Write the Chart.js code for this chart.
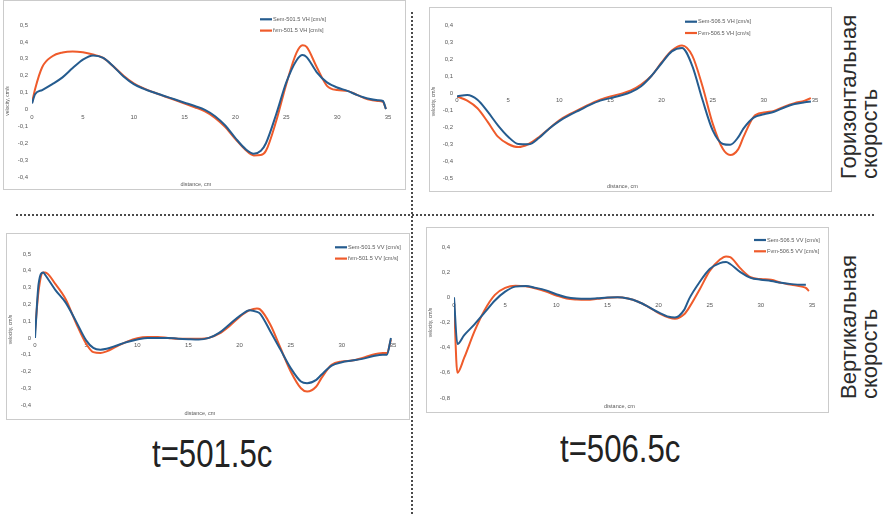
<!DOCTYPE html>
<html>
<head>
<meta charset="utf-8">
<script src="https://cdn.jsdelivr.net/npm/chart.js@4/dist/chart.umd.min.js"></script>
<style>
html,body{margin:0;padding:0;background:#fff;}
body{width:887px;height:515px;position:relative;overflow:hidden;font-family:"Liberation Sans",Arial,sans-serif;}
.box{position:absolute;border:1px solid #cbcbcb;box-sizing:border-box;background:#fff;}
.box canvas{position:absolute;left:0;top:0;}
.hdash{position:absolute;left:16px;top:214px;width:858px;height:2px;background:repeating-linear-gradient(to right,#4a4a4a 0 2px,transparent 2px 4px);}
.vdash{position:absolute;left:411px;top:12px;width:2px;height:503px;background:repeating-linear-gradient(to bottom,#4a4a4a 0 2px,transparent 2px 4px);}
.rot{position:absolute;transform-origin:left top;transform:rotate(-90deg);font-size:22px;line-height:21px;color:#2b2b2b;white-space:nowrap;}
.big{position:absolute;font-family:"Liberation Sans",sans-serif;font-size:38px;line-height:40px;color:#222;white-space:nowrap;transform-origin:left top;transform:scaleX(0.82);}
</style>
</head>
<body>
<div class="box" style="left:3px;top:0px;width:403px;height:190px;"><canvas id="c1" width="401" height="188"></canvas></div>
<div class="box" style="left:429px;top:7px;width:403px;height:185px;"><canvas id="c2" width="401" height="183"></canvas></div>
<div class="box" style="left:6px;top:233px;width:404px;height:187px;"><canvas id="c3" width="402" height="185"></canvas></div>
<div class="box" style="left:426px;top:227px;width:403px;height:186px;"><canvas id="c4" width="401" height="184"></canvas></div>
<div class="hdash"></div>
<div class="vdash"></div>
<div class="rot" style="left:838px;top:179px;">Горизонтальная<br>скорость</div>
<div class="rot" style="left:838px;top:399px;">Вертикальная<br>скорость</div>
<div class="big" style="left:152px;top:434px;">t=501.5c</div>
<div class="big" style="left:560px;top:429px;">t=506.5c</div>
<script>
// ---- chart 1: horizontal velocity, t = 501.5 ----
const distVH501 = [0, 0.3, 1, 2, 3, 4, 5, 6, 7, 8, 9, 10, 11, 12, 13, 14, 15, 16, 17, 18, 19, 20, 21, 21.8, 22.5, 23, 24, 25, 26, 26.6, 27, 28, 29, 30, 31, 32, 33, 34, 34.5, 34.8];
const semVH501 = [0.035, 0.09, 0.115, 0.15, 0.19, 0.245, 0.295, 0.32, 0.305, 0.255, 0.195, 0.15, 0.122, 0.1, 0.08, 0.06, 0.04, 0.02, -0.002, -0.04, -0.095, -0.17, -0.235, -0.262, -0.245, -0.2, -0.03, 0.16, 0.29, 0.322, 0.31, 0.22, 0.16, 0.13, 0.11, 0.085, 0.065, 0.055, 0.05, 0.002];
const fvmVH501 = [0.04, 0.12, 0.25, 0.315, 0.337, 0.343, 0.338, 0.325, 0.305, 0.255, 0.2, 0.155, 0.125, 0.1, 0.078, 0.057, 0.035, 0.013, -0.012, -0.05, -0.105, -0.175, -0.24, -0.272, -0.27, -0.245, -0.07, 0.15, 0.335, 0.38, 0.37, 0.25, 0.14, 0.115, 0.11, 0.085, 0.06, 0.05, 0.045, 0.003];

// ---- chart 2: horizontal velocity, t = 506.5 ----
const distVH506 = [0, 1, 2, 3, 4, 5, 6, 7, 8, 9, 10, 11, 12, 13, 14, 15, 16, 17, 18, 19, 20, 21, 22, 23, 24, 25, 26, 26.7, 27.5, 28, 29, 30, 31, 32, 33, 34, 34.6];
const semVH506 = [-0.02, -0.012, -0.04, -0.11, -0.19, -0.257, -0.3, -0.302, -0.265, -0.21, -0.165, -0.13, -0.1, -0.07, -0.045, -0.03, -0.015, 0.005, 0.04, 0.1, 0.175, 0.245, 0.265, 0.16, -0.04, -0.22, -0.3, -0.305, -0.26, -0.21, -0.145, -0.125, -0.11, -0.085, -0.065, -0.055, -0.05];
const fvmVH506 = [-0.02, -0.045, -0.09, -0.17, -0.257, -0.3, -0.318, -0.3, -0.26, -0.21, -0.16, -0.125, -0.095, -0.065, -0.04, -0.02, -0.005, 0.015, 0.05, 0.1, 0.18, 0.25, 0.28, 0.22, 0.04, -0.18, -0.33, -0.365, -0.33, -0.26, -0.14, -0.115, -0.105, -0.08, -0.06, -0.045, -0.03];

// ---- chart 3: vertical velocity, t = 501.5 ----
const distVV501 = [0, 0.35, 0.8, 1, 2, 3, 4, 5, 5.7, 6.4, 7, 8, 9, 10, 11, 12, 13, 14, 15, 16, 17, 18, 19, 20, 21, 21.7, 22, 23, 24, 25, 26, 26.6, 27.5, 28, 29, 30, 31, 32, 33, 34, 34.4, 34.8];
const semVV501 = [0.0, 0.32, 0.39, 0.375, 0.285, 0.21, 0.1, -0.015, -0.06, -0.07, -0.065, -0.045, -0.025, -0.01, 0.0, 0.0, 0.0, -0.005, -0.008, -0.01, 0.0, 0.03, 0.08, 0.13, 0.165, 0.155, 0.145, 0.04, -0.07, -0.18, -0.26, -0.27, -0.25, -0.22, -0.165, -0.145, -0.135, -0.125, -0.11, -0.1, -0.1, 0.0];
const fvmVV501 = [0.04, 0.28, 0.39, 0.39, 0.32, 0.23, 0.09, -0.035, -0.085, -0.09, -0.08, -0.05, -0.022, -0.002, 0.005, 0.005, 0.0, -0.005, -0.005, -0.005, 0.0, 0.025, 0.07, 0.125, 0.165, 0.175, 0.17, 0.08, -0.06, -0.2, -0.3, -0.32, -0.29, -0.24, -0.16, -0.14, -0.135, -0.12, -0.1, -0.09, -0.09, -0.01];

// ---- chart 4: vertical velocity, t = 506.5 ----
const distVV506 = [0, 0.33, 1, 2, 3, 4, 5, 6, 7, 8, 9, 10, 11, 12, 13, 14, 15, 16, 17, 18, 19, 20, 21, 21.6, 22.5, 23, 24, 25, 26, 26.6, 27, 28, 29, 30, 31, 32, 33, 34, 34.4, 34.7];
const semVV506 = [0.0, -0.37, -0.3, -0.215, -0.12, -0.025, 0.045, 0.085, 0.09, 0.075, 0.055, 0.025, 0.0, -0.01, -0.012, -0.008, -0.002, 0.0, -0.01, -0.035, -0.075, -0.12, -0.155, -0.16, -0.1, -0.01, 0.12, 0.225, 0.272, 0.28, 0.265, 0.2, 0.155, 0.14, 0.13, 0.115, 0.105, 0.1, 0.1, null];
const fvmVV506 = [-0.03, -0.6, -0.48, -0.27, -0.1, 0.02, 0.075, 0.093, 0.088, 0.07, 0.045, 0.015, -0.01, -0.018, -0.02, -0.012, -0.003, 0.0, -0.01, -0.035, -0.075, -0.125, -0.16, -0.17, -0.135, -0.08, 0.06, 0.21, 0.3, 0.325, 0.32, 0.23, 0.16, 0.145, 0.14, 0.115, 0.1, 0.085, 0.075, 0.05];

const BLUE = '#255c8f';
const RED = '#ef5b2b';
const TXT = '#595959';
const FONT = '"Liberation Sans", Arial, sans-serif';

const boxLegend = {
  id: 'boxLegend',
  afterDraw(chart, args, opts) {
    const ctx = chart.ctx;
    ctx.save();
    chart.data.datasets.forEach((ds, i) => {
      const y = opts.y + i * opts.gap;
      ctx.strokeStyle = ds.borderColor;
      ctx.lineWidth = 2.2;
      ctx.beginPath();
      ctx.moveTo(opts.x, y);
      ctx.lineTo(opts.x + 12, y);
      ctx.stroke();
      ctx.fillStyle = TXT;
      ctx.font = '5.6px ' + FONT;
      ctx.textBaseline = 'middle';
      ctx.textAlign = 'left';
      ctx.fillText(ds.label, opts.x + 13, y);
    });
    ctx.restore();
  }
};

function fmt(v) {
  const r = Math.round(v * 10) / 10;
  if (Math.abs(r) < 1e-9) return '0';
  return r.toFixed(1).replace('.', ',');
}

function pts(xs, ys) {
  return xs.map((x, i) => ({ x: x, y: ys[i] }));
}

function makeChart(id, cfg) {
  new Chart(document.getElementById(id), {
    type: 'line',
    data: {
      datasets: [
        { label: cfg.labels[0], data: pts(cfg.xs, cfg.sem), borderColor: BLUE, backgroundColor: BLUE, borderWidth: 2, pointRadius: 0, cubicInterpolationMode: 'monotone', order: 1 },
        { label: cfg.labels[1], data: pts(cfg.xs, cfg.fvm), borderColor: RED, backgroundColor: RED, borderWidth: 2, pointRadius: 0, cubicInterpolationMode: 'monotone', order: 2 }
      ]
    },
    options: {
      responsive: false,
      animation: false,
      events: [],
      layout: { padding: { left: 0, top: cfg.top, right: cfg.right, bottom: 0 } },
      scales: {
        x: {
          type: 'linear', min: 0, max: 35,
          position: { y: 0 },
          grid: { display: false, drawTicks: false },
          border: { display: false },
          ticks: { stepSize: 5, font: { size: 6, family: FONT }, color: TXT, padding: 4, maxRotation: 0, autoSkip: false },
          afterFit: s => { s.height = 0; }
        },
        y: {
          min: cfg.ymin, max: cfg.ymax,
          grid: { display: false, drawTicks: false },
          border: { display: false },
          ticks: { stepSize: cfg.step, font: { size: 6, family: FONT }, color: TXT, padding: 4, callback: v => fmt(v) },
          title: { display: true, text: 'velocity, cm/s', font: { size: 5, family: FONT }, color: TXT, padding: { top: 1, bottom: 0 } },
          afterFit: s => { s.width = cfg.yw; }
        }
      },
      plugins: {
        legend: { display: false },
        tooltip: { enabled: false },
        title: { display: true, position: 'bottom', text: 'distance, cm', font: { size: 5.5, family: FONT, weight: 'normal' }, color: TXT, padding: { top: cfg.tt, bottom: cfg.tb } },
        boxLegend: { x: cfg.lx, y: cfg.ly, gap: 11.3 }
      }
    },
    plugins: [boxLegend]
  });
}

makeChart('c1', { xs: distVH501, sem: semVH501, fvm: fvmVH501, labels: ['Sem-501.5 VH [cm/s]', 'fvm-501.5 VH [cm/s]'], ymin: -0.4, ymax: 0.5, step: 0.1, top: 24, right: 17, yw: 28, tt: 4.4, tb: 1, lx: 256, ly: 18.3 });
makeChart('c2', { xs: distVH506, sem: semVH506, fvm: fvmVH506, labels: ['Sem-506.5 VH [cm/s]', 'Fvm-506.5 VH [cm/s]'], ymin: -0.5, ymax: 0.4, step: 0.1, top: 17, right: 16, yw: 27, tt: 5.4, tb: 1, lx: 255, ly: 13.7 });
makeChart('c3', { xs: distVV501, sem: semVV501, fvm: fvmVV501, labels: ['Sem-501.5 VV [cm/s]', 'fvm-501.5 VV [cm/s]'], ymin: -0.4, ymax: 0.5, step: 0.1, top: 20, right: 16, yw: 28, tt: 5, tb: 2.4, lx: 328, ly: 13.3 });
makeChart('c4', { xs: distVV506, sem: semVV506, fvm: fvmVV506, labels: ['Sem-506.5 VV [cm/s]', 'Fvm-506.5 VV [cm/s]'], ymin: -0.8, ymax: 0.4, step: 0.2, top: 19, right: 16, yw: 27, tt: 5.4, tb: 2, lx: 327, ly: 12 });
</script>
</body>
</html>
